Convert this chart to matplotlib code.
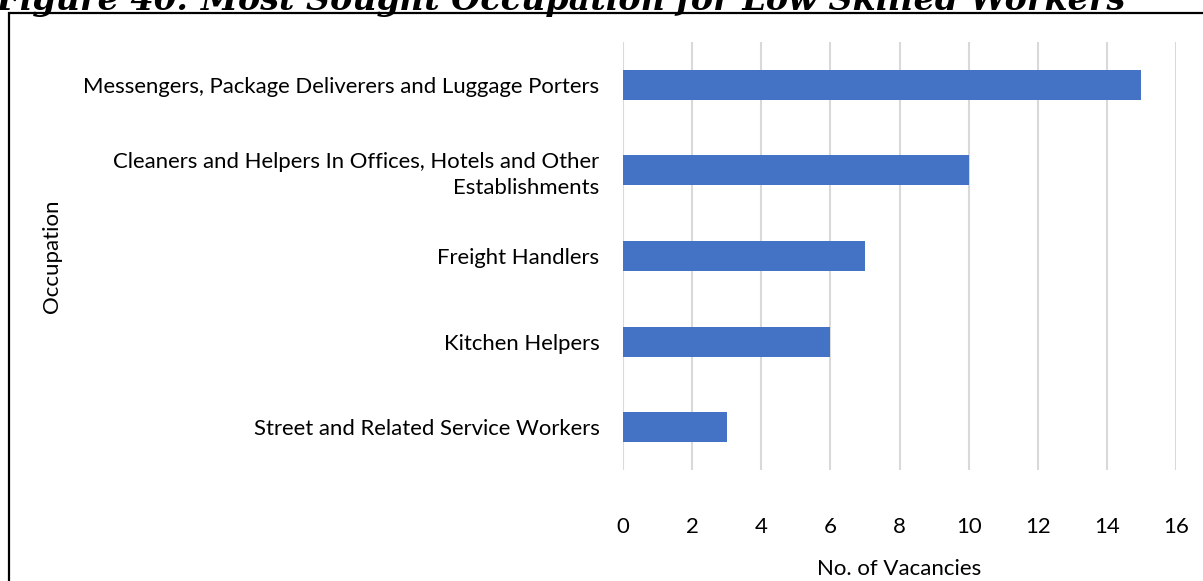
import matplotlib.pyplot as plt
import matplotlib.patches as patches

occupations = ['Street and Related Service Workers',
               'Kitchen Helpers',
               'Freight Handlers',
               'Cleaners and Helpers In Offices, Hotels and Other\nEstablishments',
               'Messengers, Package Deliverers and Luggage Porters']
vacancies = [3, 6, 7, 10, 15]
xticks = [0, 2, 4, 6, 8, 10, 12, 14, 16]

plt.rcParams['font.family'] = ['Lato', 'DejaVu Sans']

fig = plt.figure(figsize=(12.03, 5.81), dpi=100)
ax = fig.add_axes([0.5179, 0.191, 0.4597, 0.7367])

ax.barh(range(len(occupations)), vacancies, height=0.35, color='#4472c4', zorder=3)
ax.set_xlim(0, 16)
ax.set_ylim(-0.5, len(occupations) - 0.5)
ax.set_xticks(xticks)
ax.set_yticks(range(len(occupations)))
ax.set_yticklabels(occupations, ha='right', multialignment='right', linespacing=1.35)
ax.grid(axis='x', color='#d9d9d9', linewidth=1.5, zorder=0)
for s in ax.spines.values():
    s.set_visible(False)
ax.tick_params(axis='both', length=0, labelsize=15.9, colors='#000000')
ax.tick_params(axis='x', pad=34)
ax.tick_params(axis='y', pad=17)
ax.set_xlabel('No. of Vacancies', fontsize=16, labelpad=16)
ax.set_ylabel('Occupation', fontsize=16)
ax.yaxis.set_label_coords(-1.014, 0.5, transform=ax.transAxes)

# outer frame
fig.patches.append(patches.Rectangle((9 / 1203, -0.05), 1.2, 1 - 13 / 581 + 0.05,
                                     transform=fig.transFigure, fill=False,
                                     edgecolor='black', linewidth=1.6))

fig.text(-0.003, 1 - 10 / 581, 'Figure 40: Most Sought Occupation for Low Skilled Workers',
         family='DejaVu Serif', fontweight='bold', style='italic', fontsize=24,
         va='baseline', ha='left')

fig.savefig('out.png', dpi=100)
